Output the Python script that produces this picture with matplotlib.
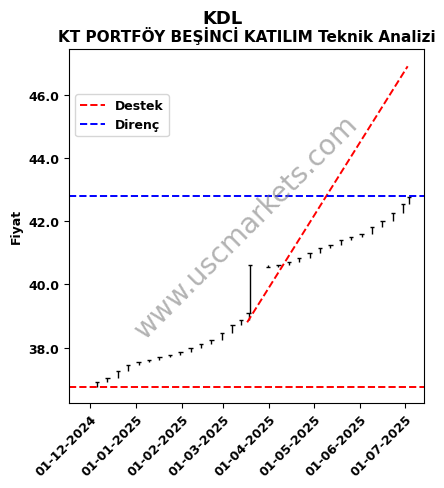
import pandas as pd
import matplotlib.pyplot as plt
import matplotlib.dates as mdates

dates = pd.to_datetime([
    "2024-11-29", "2024-12-06", "2024-12-13", "2024-12-20", "2024-12-27",
    "2025-01-03", "2025-01-10", "2025-01-17", "2025-01-24", "2025-01-31",
    "2025-02-07", "2025-02-14", "2025-02-21", "2025-02-28", "2025-03-07",
    "2025-03-13", "2025-03-18", "2025-03-19", "2025-03-31", "2025-04-07",
    "2025-04-14", "2025-04-21", "2025-04-28", "2025-05-05", "2025-05-12",
    "2025-05-19", "2025-05-26", "2025-06-02", "2025-06-09", "2025-06-16",
    "2025-06-23", "2025-06-30", "2025-07-04"])
closes = [36.75, 36.9, 37.05, 37.25, 37.45, 37.55, 37.6, 37.7, 37.75, 37.85,
          37.98, 38.1, 38.25, 38.45, 38.7, 38.88, 39.1, 40.6, 40.55, 40.6,
          40.7, 40.85, 41.0, 41.15, 41.25, 41.4, 41.5, 41.6, 41.8, 42.0,
          42.25, 42.55, 42.75]

support_level = 36.75
resistance_level = 42.78
trend_dates = pd.to_datetime(["2025-03-17", "2025-07-03"])
trend_values = [38.8, 46.9]

fig = plt.figure(figsize=(4.44, 4.89), dpi=100)
ax = fig.add_axes([0.155, 0.174, 0.800, 0.724])

x = mdates.date2num(dates)
for i in range(1, len(closes)):
    ax.vlines(x[i], closes[i - 1], closes[i], color="black", lw=1)
    ax.hlines(closes[i], x[i] - 1.5, x[i] + 1.5, color="black", lw=1)

ax.plot(trend_dates, trend_values, "r--", lw=1.4)
ax.axhline(support_level, color="red", ls="--", lw=1.4, label="Destek")
ax.axhline(resistance_level, color="blue", ls="--", lw=1.4, label="Direnç")

ax.set_xlim(mdates.datestr2num("2024-11-17"), mdates.datestr2num("2025-07-14"))
ax.set_ylim(36.25, 47.45)
ax.set_yticks([38, 40, 42, 44, 46])
ax.yaxis.set_major_formatter(plt.FormatStrFormatter("%.1f"))
ax.xaxis.set_major_locator(mdates.MonthLocator())
ax.xaxis.set_major_formatter(mdates.DateFormatter("%d-%m-%Y"))
plt.setp(ax.get_xticklabels(), rotation=45, ha="right", rotation_mode="anchor", fontweight="bold", fontsize=9)
plt.setp(ax.get_yticklabels(), fontweight="bold", fontsize=9)
ax.set_ylabel("Fiyat", fontweight="bold", fontsize=9)
ax.legend(loc="upper left", bbox_to_anchor=(0.0, 0.89), prop={"weight": "bold", "size": 9}, frameon=True)

fig.suptitle("KDL", fontweight="bold", fontsize=13, y=0.98)
ax.set_title("KT PORTFÖY BEŞİNCİ KATILIM Teknik Analizi", fontweight="bold", fontsize=11)
ax.text(0.5, 0.5, "www.uscmarkets.com", transform=ax.transAxes, fontsize=20,
        color="gray", alpha=0.6, rotation=45, ha="center", va="center")

fig.savefig("out.png", dpi=100)
